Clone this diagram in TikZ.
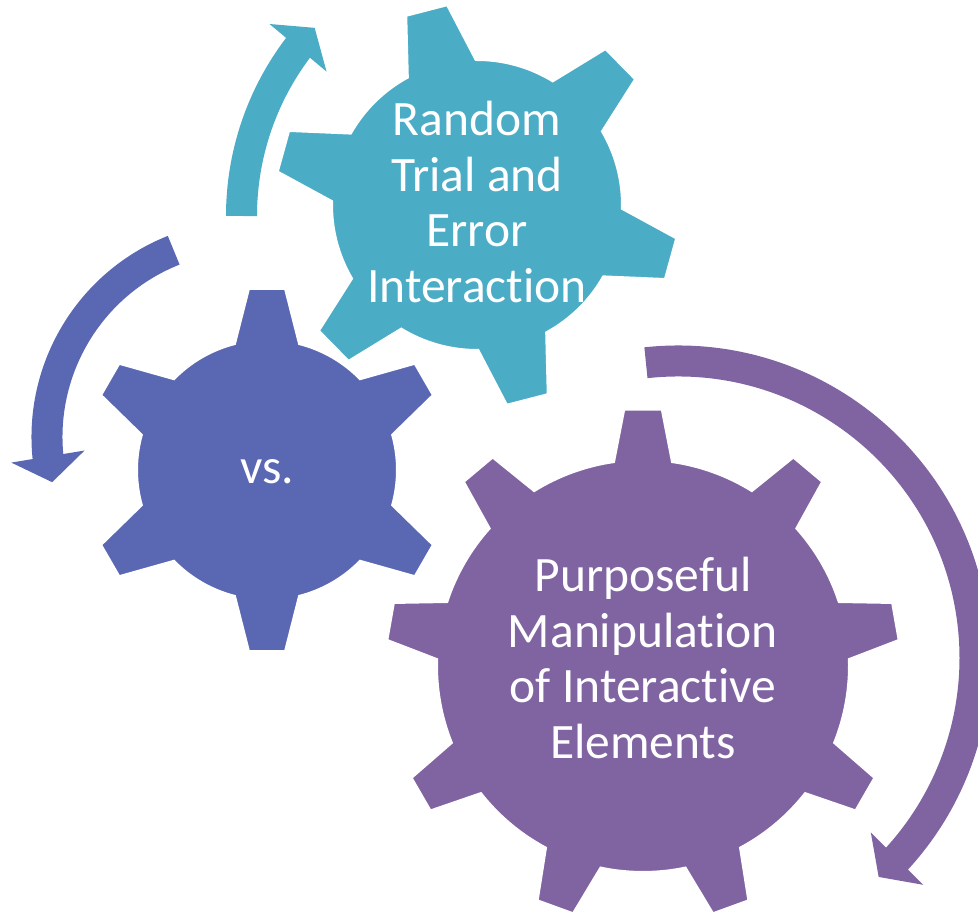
\documentclass[tikz,border=0pt]{standalone}
\usepackage{fontspec}
\setmainfont{Carlito}[Ligatures=NoCommon]
\usetikzlibrary{arrows.meta,bending}
\definecolor{tealgear}{HTML}{4BACC6}
\definecolor{bluegear}{HTML}{5A67B3}
\definecolor{purplegear}{HTML}{8064A2}
\newcommand{\cog}[8]{
  \filldraw[#1, draw=white, line width=1pt, shift={(#2)}] ({#4-#7}:#5)
    \foreach \k [evaluate=\k as \c using {#4+(\k-1)*360/#3}] in {1,...,#3}{
      -- ({\c-#7}:#5) -- ({\c-#8}:#6) -- ({\c+#8}:#6) -- ({\c+#7}:#5)
      arc[start angle={\c+#7}, end angle={\c+360/#3-#7}, radius=#5]
    } -- cycle;
}
\tikzset{
  gearlabel/.style={text=white, align=center, inner sep=0pt,
    font=\fontsize{24.75}{27.85}\selectfont},
  circarrow/.style={line width=15.5pt, -{Triangle[length=13pt, width=36.5pt]}}
}

\begin{document}
\begin{tikzpicture}[x=0.5pt, y=0.5pt]

      \clip (0,0) rectangle (978,913);

      \coordinate (pc) at (643,247);
      \coordinate (bc) at (267,443);
      \coordinate (tc) at (477,708);
      \coordinate (pa) at (678,255);
      \coordinate (ba) at (248,476);
      \coordinate (ta) at (520,697);

      \cog{purplegear}{pc}{9}{90}{206}{257}{8.1}{4.2}
      \cog{bluegear}{bc}{6}{30}{130}{182}{14.3}{5.7}
      \cog{tealgear}{tc}{6}{44.5}{145}{202}{14}{6}

      \draw[circarrow, purplegear] (pa) ++(96.2:297) arc[start angle=96.2, end angle=-47.5, radius=297];
      \draw[circarrow, bluegear] (ba) ++(111.7:201) arc[start angle=111.7, end angle=193, radius=201];
      \draw[circarrow, tealgear] (ta) ++(180:278.5) arc[start angle=180, end angle=137.5, radius=278.5];

      \node[gearlabel] (ptext) at (643,255) {Purposeful\\Manipulation\\of Interactive\\Elements};
      \node[gearlabel] (btext) at (267,441) {vs.};
      \node[gearlabel] (ttext) at (477,711) {Random\\Trial and\\Error\\Interaction};
    \end{tikzpicture}
\end{document}
